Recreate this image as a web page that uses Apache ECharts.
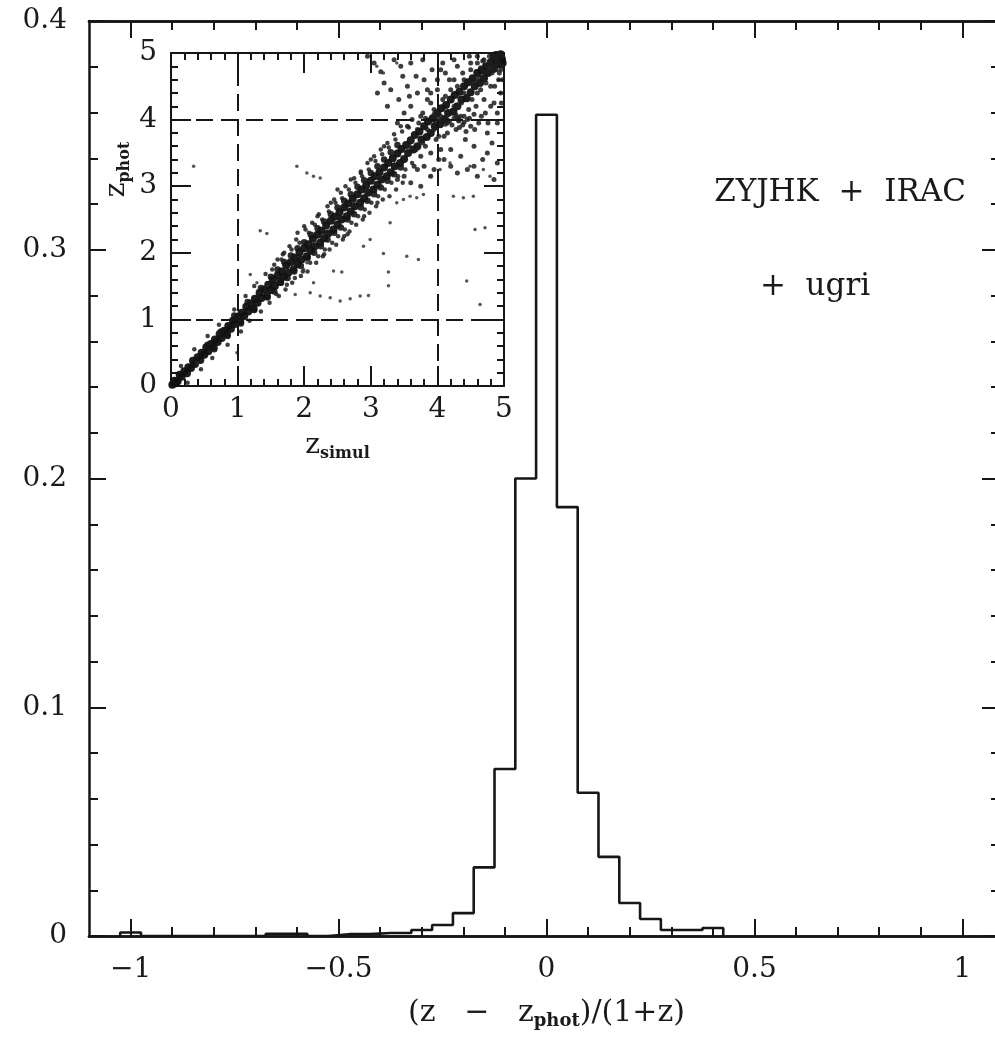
<!DOCTYPE html>
<html><head><meta charset="utf-8">
<script src="https://cdn.jsdelivr.net/npm/echarts@6/dist/echarts.min.js"></script>
<style>html,body{margin:0;padding:0;background:#fff}#c{width:995px;height:1050px}</style>
</head><body><div id="c"></div>
<script>
// ---------- main histogram data ----------
const binWidth = 0.05;
const binCenters = [-1.0,-0.95,-0.9,-0.85,-0.8,-0.75,-0.7,-0.65,-0.6,-0.55,-0.5,-0.45,-0.4,-0.35,-0.3,-0.25,-0.2,-0.15,-0.1,-0.05,0.0,0.05,0.1,0.15,0.2,0.25,0.3,0.35,0.4];
const binValues  = [0.0015,0,0,0,0,0,0,0.001,0.001,0,0.0008,0.0008,0.0013,0.0013,0.0026,0.0048,0.010,0.030,0.073,0.200,0.359,0.1875,0.0626,0.0346,0.0144,0.0074,0.0026,0.0026,0.0035];
const xMajorTicks = [-1,-0.5,0,0.5,1];
const xMinorTicks = [-0.9,-0.8,-0.7,-0.6,-0.4,-0.3,-0.2,-0.1,0.1,0.2,0.3,0.4,0.6,0.7,0.8,0.9];
const yTickLabels = ['0','0.1','0.2','0.3','0.4'];

// ---------- inset scatter data (z_simul, z_phot) ----------
const insetCore = [[0.02,0.02],[0.05,0.08],[0.1,0.07],[0.13,0.17],[0.2,0.22],[0.24,0.19],[0.3,0.27],[0.33,0.38],[0.4,0.43],[0.44,0.39],[0.5,0.47],[0.53,0.58],[0.6,0.63],[0.64,0.58],[0.7,0.66],[0.73,0.78],[0.8,0.83],[0.84,0.78],[0.9,0.86],[0.93,0.98],[1.0,1.04],[1.04,0.97],[1.1,1.05],[1.13,1.19],[1.2,1.24],[1.24,1.16],[1.3,1.25],[1.33,1.4],[1.4,1.45],[1.44,1.35],[1.5,1.44],[1.53,1.6],[1.6,1.66],[1.64,1.56],[1.7,1.64],[1.73,1.81],[1.8,1.86],[1.84,1.75],[1.9,1.83],[1.93,2.01],[2.0,2.07],[2.04,1.95],[2.1,2.03],[2.13,2.21],[2.2,2.27],[2.24,2.15],[2.3,2.22],[2.33,2.41],[2.4,2.48],[2.44,2.35],[2.5,2.42],[2.53,2.61],[2.6,2.68],[2.64,2.55],[2.7,2.62],[2.73,2.81],[2.8,2.88],[2.84,2.75],[2.9,2.82],[2.93,3.01],[3.0,3.08],[3.04,2.95],[3.1,3.02],[3.13,3.21],[3.2,3.28],[3.24,3.15],[3.3,3.21],[3.33,3.42],[3.4,3.49],[3.44,3.35],[3.5,3.41],[3.53,3.62],[3.6,3.69],[3.64,3.55],[3.7,3.6],[3.73,3.82],[3.8,3.9],[3.84,3.74],[3.9,3.8],[3.93,4.02],[4.0,4.1],[4.04,3.93],[4.1,4.0],[4.13,4.22],[4.2,4.3],[4.24,4.12],[4.3,4.2],[4.33,4.42],[4.4,4.5],[4.44,4.32],[4.5,4.41],[4.53,4.62],[4.6,4.7],[4.64,4.55],[4.7,4.62],[4.73,4.8],[4.8,4.86],[4.84,4.76],[4.9,4.85],[4.93,4.95],[4.95,4.98],[4.97,4.9],[4.88,4.97],[4.98,4.85],
  [0.07,0.04],[0.16,0.14],[0.26,0.28],[0.36,0.33],[0.46,0.5],[0.56,0.52],[0.66,0.7],[0.76,0.72],[0.86,0.9],[0.96,0.93],[1.06,1.1],[1.16,1.12],[1.26,1.31],[1.36,1.32],[1.46,1.52],[1.56,1.5],[1.66,1.72],[1.76,1.7],[1.86,1.93],[1.96,1.9],[2.06,2.13],[2.16,2.1],[2.26,2.33],[2.36,2.29],[2.46,2.54],[2.56,2.5],[2.66,2.74],[2.76,2.7],[2.86,2.95],[2.96,2.9],[3.06,3.15],[3.16,3.1],[3.26,3.35],[3.36,3.3],[3.46,3.56],[3.56,3.5],[3.66,3.77],[3.76,3.7],[3.86,3.97],[3.96,3.9],[4.06,4.17],[4.16,4.1],[4.26,4.37],[4.36,4.3],[4.46,4.56],[4.56,4.5],[4.66,4.74],[4.76,4.7],[4.86,4.9],[4.96,4.92]];
const insetBandEdge = [[1.55,1.42],[1.65,1.55],[1.75,1.62],[1.85,1.72],[1.95,1.8],[2.05,1.92],[2.15,2.0],[2.25,2.1],[2.35,2.2],[2.45,2.3],[2.55,2.38],[2.65,2.5],[2.75,2.58],[2.85,2.68],[2.95,2.78],[3.05,2.88],[3.15,2.98],[3.25,3.08],[3.35,3.18],[3.45,3.28],[1.5,1.64],[1.6,1.75],[1.7,1.86],[1.8,1.96],[1.9,2.07],[2.0,2.16],[2.1,2.27],[2.2,2.37],[2.3,2.47],[2.4,2.58],[2.5,2.68],[2.6,2.78],[2.7,2.88],[2.8,2.99],[2.9,3.09],[3.0,3.2],[3.1,3.3],[3.2,3.4],[3.3,3.51],[3.4,3.62],[0.95,1.06],[1.05,0.94],[1.15,1.26],[1.25,1.14],[1.35,1.47],[1.45,1.33],[0.55,0.62],[0.65,0.55],[0.75,0.82],[0.85,0.75]];
const insetHalo = [[0.15,0.3],[0.25,0.05],[0.35,0.55],[0.45,0.25],[0.55,0.75],[0.62,0.42],[0.72,0.92],[0.85,0.62],[0.95,1.15],[1.05,0.82],[1.12,1.35],[1.18,0.98],[1.25,1.5],[1.35,1.12],[1.42,1.68],[1.48,1.25],[1.55,1.82],[1.62,1.35],[1.68,1.98],[1.72,1.45],[1.78,2.1],[1.82,1.55],[1.88,2.2],[1.95,1.65],[2.02,2.35],[2.05,1.72],[2.12,2.45],[2.18,1.85],[2.22,2.58],[2.28,1.95],[2.35,2.7],[2.38,2.05],[2.45,2.8],[2.48,2.12],[2.55,2.9],[2.58,2.2],[2.62,3.0],[2.68,2.32],[2.75,3.12],[2.78,2.42],[2.85,3.22],[2.88,2.5],[2.95,3.35],[2.98,2.6],[3.05,3.45],[3.08,2.7],[3.15,3.55],[3.18,2.8],[3.25,3.65],[3.28,2.85],[3.35,3.78],[3.38,2.95],[3.45,3.9],[3.48,3.05],[1.6,1.9],[1.9,2.3],[2.2,2.55],[2.4,2.75],[2.6,2.25],[2.9,2.55],[3.1,2.75],[2.5,2.95],[2.7,3.1],[3.0,3.4],[3.2,3.6],[1.7,2.0],[2.0,2.4],[2.3,1.98],[2.65,2.28],[2.85,3.2],
  [1.52,1.75],[1.58,1.38],[1.66,1.9],[1.74,1.52],[1.81,2.05],[1.86,1.62],[1.93,2.15],[1.98,1.72],[2.07,2.3],[2.09,1.85],[2.16,2.42],[2.21,1.95],[2.27,2.5],[2.31,2.05],[2.37,2.62],[2.42,2.15],[2.47,2.75],[2.51,2.25],[2.57,2.82],[2.61,2.35],[2.67,2.95],[2.71,2.45],[2.77,3.05],[2.81,2.55],[2.87,3.15],[2.91,2.65],[2.97,3.25],[3.01,2.75],[3.07,3.38],[3.11,2.85],[3.17,3.48],[3.21,2.95],[3.27,3.58],[3.31,3.05],[3.37,3.7],[3.41,3.15],[3.47,3.82],[3.52,3.25],[3.57,3.88],[3.62,3.35]];
const insetCloud = [[3.55,3.9],[3.6,4.2],[3.65,3.3],[3.7,4.4],[3.72,3.95],[3.75,3.45],[3.78,4.1],[3.8,4.6],[3.82,3.6],[3.85,4.3],[3.88,3.98],[3.9,3.5],[3.92,4.75],[3.95,4.15],[3.98,3.7],[4.0,4.45],[4.02,3.4],[4.05,4.05],[4.08,4.85],[4.1,3.75],[4.12,4.35],[4.15,3.95],[4.18,4.6],[4.2,3.55],[4.22,4.1],[4.25,4.9],[4.28,3.85],[4.3,4.5],[4.32,4.0],[4.35,3.45],[4.38,4.7],[4.4,4.05],[4.42,3.7],[4.45,4.35],[4.48,4.95],[4.5,3.9],[4.52,4.6],[4.55,3.6],[4.58,4.2],[4.6,4.85],[4.62,3.95],[4.65,4.45],[4.68,3.4],[4.7,4.7],[4.72,4.1],[4.75,3.8],[4.78,4.95],[4.8,4.5],[4.82,3.65],[4.85,4.25],[4.88,4.75],[4.9,3.95],[4.92,4.6],[4.95,4.4],[4.97,4.8],[4.55,3.3],[4.75,3.5],[4.9,3.35],[4.3,3.2],[4.6,3.15],[4.85,3.1],[3.82,4.02],[3.9,4.0],[3.97,3.96],[4.05,3.98],[4.1,4.03],[4.18,3.97],[4.25,4.02],[4.32,3.98],[4.4,3.96],[4.48,4.02],[4.12,3.93],[4.28,4.07],[4.35,4.05],[4.22,3.92],[3.05,4.85],[3.15,4.72],[3.2,4.55],[3.3,4.45],[3.35,4.9],[3.42,4.3],[3.48,4.65],[3.5,4.1],[3.55,4.5],[3.6,4.85],[3.62,4.0],[3.68,4.65],[3.7,3.85],[3.78,4.9],[3.25,4.2],[3.4,3.95],[2.95,4.95],[3.1,4.4],[3.45,4.8],[3.58,4.35],[4.6,4.95],[4.7,4.9],[4.8,4.85],[4.85,4.95],[4.9,4.92],[4.95,4.75],[4.98,4.95],[4.92,4.98],[4.75,4.82],[4.65,4.78],[4.88,4.88],[4.5,4.75],[4.55,4.55],[4.7,4.6],[4.82,4.7],[3.8,3.3],[3.95,3.25],[4.1,3.4],[4.05,3.55],[3.9,3.15],[4.2,3.3],[4.45,3.25],[3.7,3.25],[3.6,3.05],[3.5,3.15],[3.4,3.1],[3.75,3.0],
  [3.85,4.45],[3.9,4.25],[3.95,3.85],[4.0,4.6],[4.02,3.75],[4.08,4.3],[4.12,4.7],[4.15,3.8],[4.2,4.45],[4.25,4.2],[4.3,4.8],[4.33,3.88],[4.36,4.25],[4.4,4.6],[4.43,3.82],[4.47,4.15],[4.5,4.85],[4.52,4.3],[4.56,3.85],[4.6,4.4],[4.63,4.65],[4.66,4.05],[4.7,4.3],[4.73,4.55],[4.76,3.95],[4.8,4.2],[4.83,4.92],[4.86,4.5],[4.9,4.1],[4.93,4.7],[4.96,4.25],[4.98,4.6],[4.0,4.02],[4.15,4.0],[4.3,4.03],[4.45,4.0],[3.75,4.05],[3.95,4.08],[4.38,3.92],[4.55,4.08],[3.65,3.75],[3.58,3.6],[3.68,3.55],[3.85,3.85],[3.78,3.65],[4.25,4.6],[4.4,4.4],[4.6,4.6],[4.75,4.75],[4.68,4.88],[4.85,4.8],[4.92,4.85],[4.58,4.72],[4.45,4.55],[3.9,4.4],[4.05,4.75]];
const insetOutliers = [[0.34,3.3],[1.89,3.3],[2.04,3.2],[2.14,3.15],[2.24,3.125],[1.34,2.33],[1.44,2.29],[1.865,1.375],[2.09,1.4],[2.24,1.35],[2.39,1.325],[2.54,1.275],[2.69,1.31],[2.84,1.35],[2.965,1.36],[2.44,1.725],[2.565,1.71],[3.19,1.99],[3.265,1.71],[3.265,1.505],[3.54,1.95],[3.715,1.9],[4.44,1.575],[4.64,1.225],[4.565,2.35],[4.715,2.375],[4.24,2.85],[4.39,2.825],[4.54,2.85],[3.39,2.75],[3.49,2.8],[3.59,2.85],[3.69,2.825],[3.79,2.875],[3.29,2.45],[2.99,2.2],[2.89,2.1],[2.14,1.55],[2.04,1.85],[1.99,1.75],[1.19,1.675],[1.29,1.55],[1.44,1.5],[0.99,0.5],[0.39,0.35],[4.49,3.3],[4.69,3.25],[4.79,3.15],[3.89,3.15],[4.04,3.25],[4.19,3.35],[3.09,4.8],[3.19,4.7],[3.39,4.85]];
const insetGuides = [1, 4];
const insetTicks = ['0','1','2','3','4','5'];

// ---------- build step outline of the histogram ----------
const histSteps = [];
binCenters.forEach((c, i) => {
  const l = +(c - binWidth / 2).toFixed(4), r = +(c + binWidth / 2).toFixed(4);
  if (i === 0) histSteps.push([l, 0]);
  histSteps.push([l, binValues[i]], [r, binValues[i]]);
  if (i === binCenters.length - 1) histSteps.push([r, 0]);
});

const FONT = 'DejaVu Serif';
const INK = '#161616';
const minus = v => (v < 0 ? '\u2212' + String(-v) : String(v));

function baseAxis(o) {
  return Object.assign({
    type: 'value',
    axisLine: { show: true, onZero: false, lineStyle: { color: INK, width: 2.5 } },
    splitLine: { show: false },
    axisLabel: { show: false },
    axisTick: { show: false },
    minorTick: { show: false }
  }, o);
}
const tickStyle = { color: INK, width: 2 };
const labelStyle = { fontFamily: FONT, fontSize: 28, color: '#1a1a1a' };
const subRich = (main, sub, gapTop) => ({
  a: { fontFamily: FONT, fontSize: main, color: '#1a1a1a', lineHeight: main + 4 },
  b: { fontFamily: FONT, fontSize: sub, fontWeight: 'bold', color: '#1a1a1a', lineHeight: sub + 2, verticalAlign: 'bottom', padding: [gapTop, 0, 0, 0] }
});

const xAxes = [
  baseAxis({ gridIndex: 0, position: 'bottom', min: -1.1, max: 1.1,
    axisTick: { show: true, inside: true, length: 17, customValues: xMajorTicks, lineStyle: tickStyle },
    axisLabel: Object.assign({ show: true, customValues: xMajorTicks, margin: 20, formatter: minus }, labelStyle),
    name: '{a|(z   \u2212   z}{b|phot}{a|)/(1+z)}', nameLocation: 'middle', nameGap: 60,
    nameTextStyle: { rich: subRich(30, 18, 12) } }),
  baseAxis({ gridIndex: 0, position: 'bottom', min: -1.1, max: 1.1,
    axisTick: { show: true, inside: true, length: 9, customValues: xMinorTicks, lineStyle: tickStyle } }),
  baseAxis({ gridIndex: 0, position: 'top', min: -1.1, max: 1.1,
    axisTick: { show: true, inside: true, length: 17, customValues: xMajorTicks, lineStyle: tickStyle } }),
  baseAxis({ gridIndex: 0, position: 'top', min: -1.1, max: 1.1,
    axisTick: { show: true, inside: true, length: 9, customValues: xMinorTicks, lineStyle: tickStyle } }),
  baseAxis({ gridIndex: 1, position: 'bottom', min: 0, max: 5, interval: 1,
    axisLine: { show: true, onZero: false, lineStyle: { color: INK, width: 2 } },
    axisTick: { show: true, inside: true, length: 20, lineStyle: tickStyle },
    minorTick: { show: true, splitNumber: 5, length: 7, lineStyle: tickStyle },
    axisLabel: Object.assign({ show: true, margin: 10, formatter: v => insetTicks[Math.round(v)] }, labelStyle),
    name: '{a|z}{b|simul}', nameLocation: 'middle', nameGap: 44,
    nameTextStyle: { rich: subRich(28, 16, 10) } }),
  baseAxis({ gridIndex: 1, position: 'top', min: 0, max: 5, interval: 1,
    axisLine: { show: true, onZero: false, lineStyle: { color: INK, width: 2 } },
    axisTick: { show: true, inside: true, length: 20, lineStyle: tickStyle },
    minorTick: { show: true, splitNumber: 5, length: 7, lineStyle: tickStyle } })
];
const yAxes = [
  baseAxis({ gridIndex: 0, position: 'left', min: 0, max: 0.4, interval: 0.1,
    axisTick: { show: true, inside: true, length: 17, lineStyle: tickStyle },
    minorTick: { show: true, splitNumber: 5, length: 9, lineStyle: tickStyle },
    axisLabel: Object.assign({ show: true, margin: 22, formatter: v => yTickLabels[Math.round(v * 10)] }, labelStyle) }),
  baseAxis({ gridIndex: 0, position: 'right', min: 0, max: 0.4, interval: 0.1,
    axisTick: { show: true, inside: true, length: 22, lineStyle: tickStyle },
    minorTick: { show: true, splitNumber: 5, length: 13, lineStyle: tickStyle } }),
  baseAxis({ gridIndex: 1, position: 'left', min: 0, max: 5, interval: 1,
    axisLine: { show: true, onZero: false, lineStyle: { color: INK, width: 2 } },
    axisTick: { show: true, inside: true, length: 20, lineStyle: tickStyle },
    minorTick: { show: true, splitNumber: 5, length: 7, lineStyle: tickStyle },
    axisLabel: Object.assign({ show: true, margin: 14, formatter: v => insetTicks[Math.round(v)] }, labelStyle),
    name: '{a|z}{b|phot}', nameLocation: 'middle', nameGap: 38, nameRotate: 90,
    nameTextStyle: { padding: [0, 0, 0, 100], rich: subRich(28, 16, 10) } }),
  baseAxis({ gridIndex: 1, position: 'right', min: 0, max: 5, interval: 1,
    axisLine: { show: true, onZero: false, lineStyle: { color: INK, width: 2 } },
    axisTick: { show: true, inside: true, length: 20, lineStyle: tickStyle },
    minorTick: { show: true, splitNumber: 5, length: 7, lineStyle: tickStyle } })
];

const guideLines = [];
insetGuides.forEach(g => { guideLines.push({ xAxis: g }, { yAxis: g }); });

const inset = (data, size, color, opacity, extra) => Object.assign({
  type: 'scatter', xAxisIndex: 4, yAxisIndex: 2, data, symbolSize: size, silent: true,
  itemStyle: { color, opacity }
}, extra || {});

const chart = echarts.init(document.getElementById('c'), null, { renderer: 'canvas' });
chart.setOption({
  animation: false,
  backgroundColor: '#fff',
  grid: [
    { left: 89, top: 21, right: -9, bottom: 114, outerBoundsMode: 'none', containLabel: false },
    { left: 171, top: 53, width: 333, height: 333, outerBoundsMode: 'none', containLabel: false }
  ],
  xAxis: xAxes,
  yAxis: yAxes,
  series: [
    { type: 'line', xAxisIndex: 0, yAxisIndex: 0, data: histSteps, symbol: 'none', silent: true,
      lineStyle: { color: INK, width: 2.6 }, z: 3 },
    inset(insetCore, 8, '#111', 0.95, {
      markLine: { silent: true, symbol: 'none', label: { show: false },
        lineStyle: { color: INK, width: 2, type: [17, 8] }, data: guideLines } }),
    inset(insetBandEdge, 6.5, '#151515', 0.9),
    inset(insetHalo, 4.5, '#1c1c1c', 0.85),
    inset(insetCloud, 5, '#1c1c1c', 0.85),
    inset(insetOutliers, 3.5, '#2a2a2a', 0.8)
  ],
  graphic: [
    { type: 'text', x: 840, y: 193, silent: true,
      style: { text: 'ZYJHK  +  IRAC', font: '31px "DejaVu Serif"', fill: '#1a1a1a', align: 'center', verticalAlign: 'middle', textAlign: 'center', textVerticalAlign: 'middle' } },
    { type: 'text', x: 815, y: 287, silent: true,
      style: { text: '+  ugri', font: '31px "DejaVu Serif"', fill: '#1a1a1a', align: 'center', verticalAlign: 'middle', textAlign: 'center', textVerticalAlign: 'middle' } }
  ]
});
</script></body></html>
